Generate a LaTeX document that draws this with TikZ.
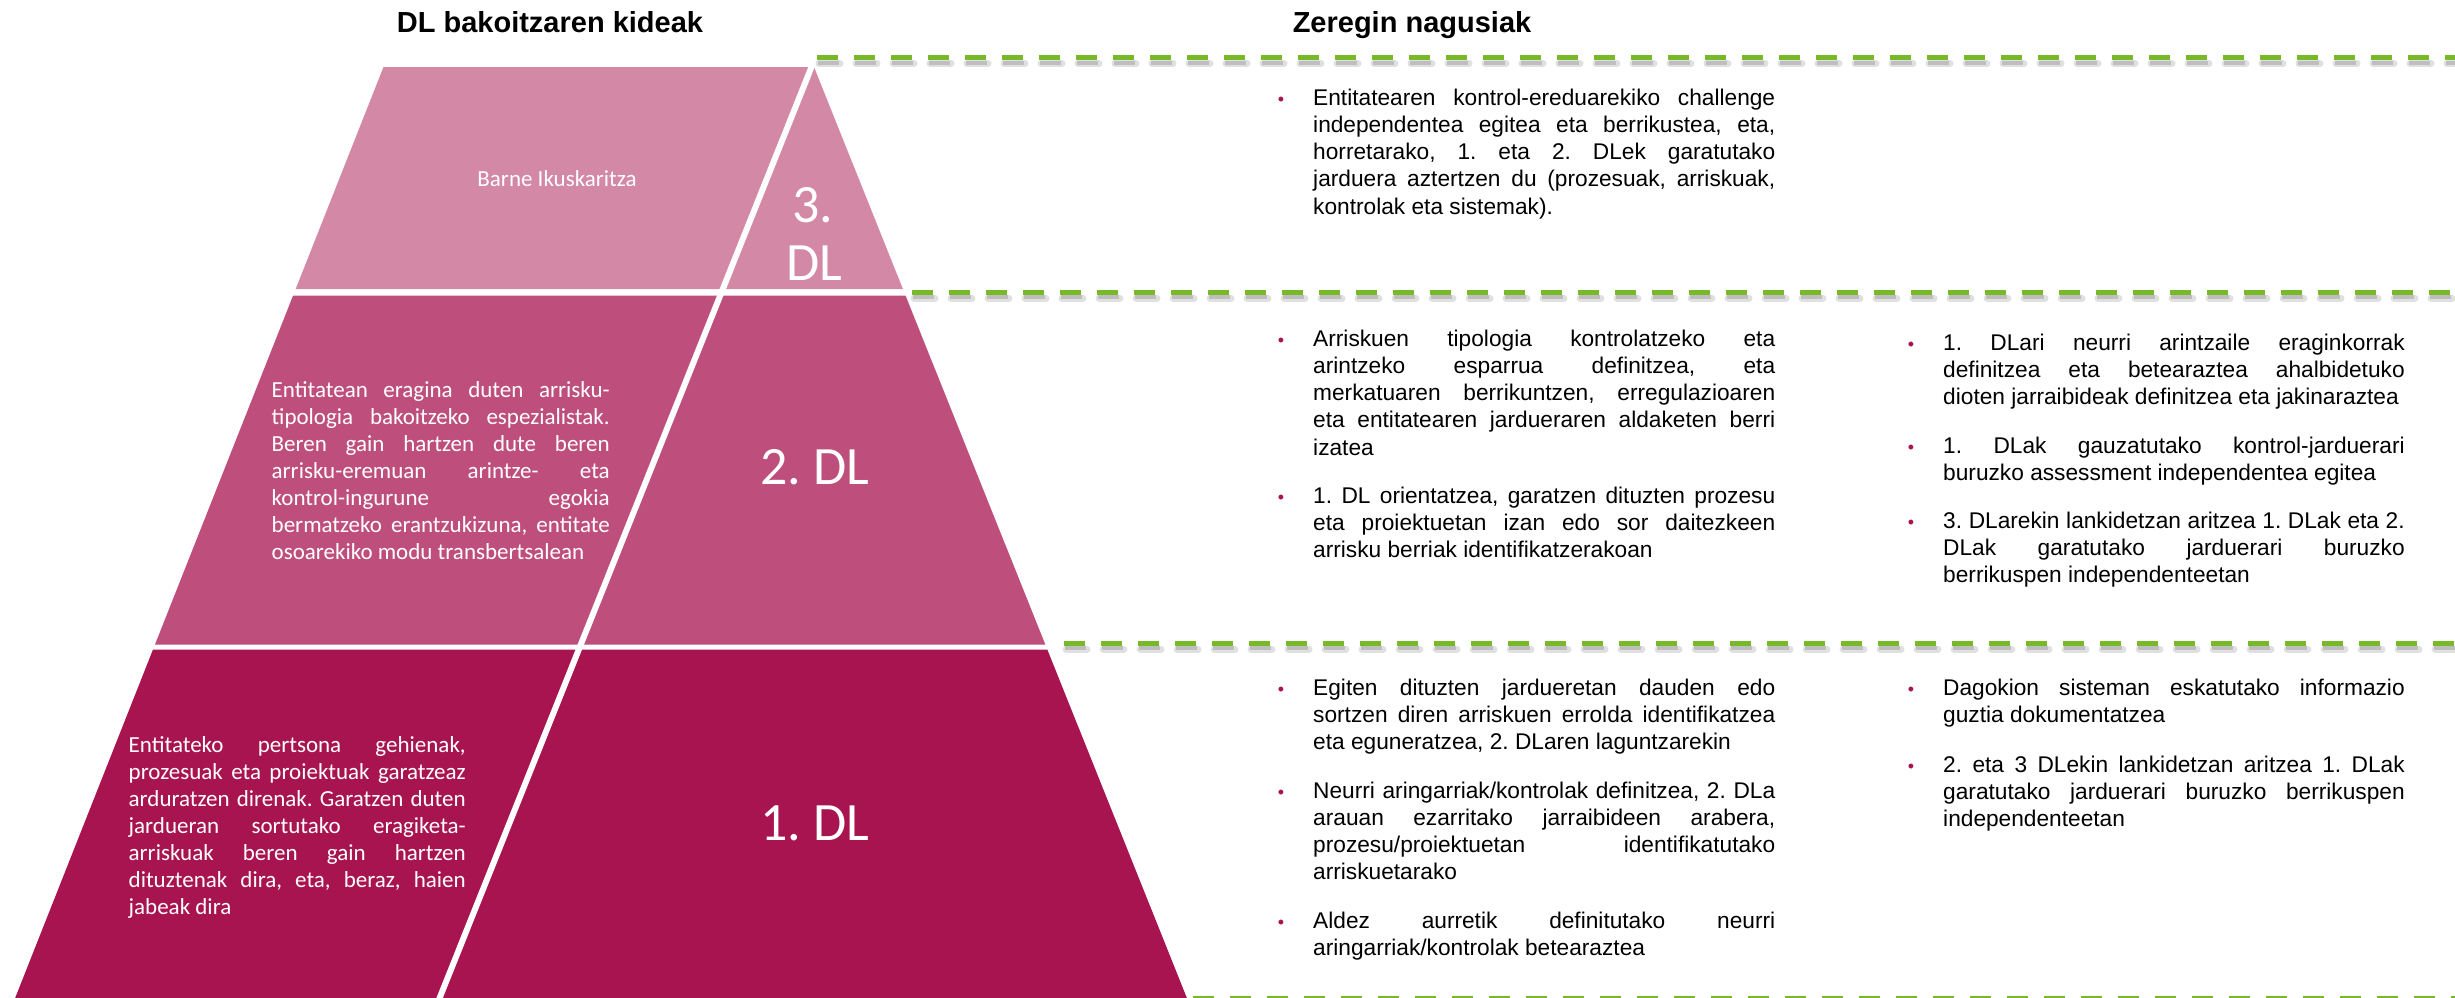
\documentclass[tikz,border=0pt]{standalone}
\usepackage{fontspec}
\setmainfont{Liberation Sans}
\newfontfamily\calibfont{Carlito}
\definecolor{tierA}{HTML}{D388A6}
\definecolor{tierB}{HTML}{BE4F7D}
\definecolor{tierC}{HTML}{A81450}
\definecolor{dashgreen}{HTML}{78B928}
\definecolor{bulc}{HTML}{A81450}
\newcommand\myjl[1]{\makebox[\hsize][s]{#1}\par}
\newcommand\myll[1]{\makebox[\hsize][l]{#1}\par}
\newcommand\mypara[2]{\vtop{\hsize=#1\relax\parindent=0pt\parskip=0pt\relax #2}}
\tikzset{
  body/.style={font=\frenchspacing\fontsize{22.7}{27.3}\selectfont, anchor=base west, inner sep=0pt, text=black},
  pyrtext/.style={font=\frenchspacing\calibfont\fontsize{23}{27.15}\selectfont, anchor=base west, inner sep=0pt, text=white},
  bigdl/.style={font=\calibfont\fontsize{54}{58}\selectfont, anchor=base, inner sep=0pt, text=white},
  smallpyr/.style={font=\calibfont\fontsize{23}{27}\selectfont, anchor=base, inner sep=0pt, text=white},
  bul/.style={font=\fontsize{18}{20}\selectfont, anchor=base, inner sep=0pt, text=bulc},
  titletext/.style={font=\bfseries\fontsize{29}{34}\selectfont, anchor=base, inner sep=0pt, text=black},
  dashln/.style={draw=dashgreen, line width=5pt, dash pattern=on 21pt off 16pt},
  shadw/.style={draw=black, line width=7pt, opacity=0.12, dash pattern=on 21pt off 16pt, line cap=round},
  shadwb/.style={draw=black, line width=4pt, opacity=0.15, dash pattern=on 21pt off 16pt},
  divider/.style={draw=white, line width=6pt}
}
\begin{document}
\frenchspacing
\begin{tikzpicture}[x=1pt,y=-1pt]
\useasboundingbox (0,0) rectangle (2455,997);
\clip (0,0) rectangle (2455,997);
\fill[white] (0,0) rectangle (2455,997);

% pyramid tiers
\fill[tierA] (383.5,67) -- (814,67) -- (902.9,289) -- (295.7,289) -- cycle;
\fill[tierB] (293.1,295.5) -- (905.5,295.5) -- (1045.3,644.5) -- (155.0,644.5) -- cycle;
\fill[tierC] (153.0,649.5) -- (1047.3,649.5) -- (1191.7,1010) -- (10.4,1010) -- cycle;
% divider between left and right pieces
\coordinate (dvtop) at (813.5,62);
\coordinate (dvbot) at (434.8,1010);
\draw[divider] (dvtop) -- (dvbot);

% titles
\node[titletext] (t1) at (550,32) {DL bakoitzaren kideak};
\node[titletext] (t2) at (1412,32) {Zeregin nagusiak};

% pyramid labels
\node[smallpyr] (barne) at (557,186) {Barne Ikuskaritza};
\node[bigdl] (dl3a) at (813,222) {3.};
\node[bigdl] (dl3b) at (814,280) {DL};
\node[bigdl] (dl2) at (815,484) {2.~DL};
\node[bigdl] (dl1) at (815,840) {1.~DL};

\node[pyrtext] (p2) at (271.5,397) {\mypara{338pt}{%
\myjl{Entitatean eragina duten arrisku-}
\myjl{tipologia bakoitzeko espezialistak.}
\myjl{Beren gain hartzen dute beren}
\myjl{arrisku-eremuan arintze- eta}
\myjl{kontrol-ingurune egokia}
\myjl{bermatzeko erantzukizuna, entitate}
\myll{osoarekiko modu transbertsalean}}};

\node[pyrtext] (p1) at (128.5,752) {\mypara{337pt}{%
\myjl{Entitateko pertsona gehienak,}
\myjl{prozesuak eta proiektuak garatzeaz}
\myjl{arduratzen direnak. Garatzen duten}
\myjl{jardueran sortutako eragiketa-}
\myjl{arriskuak beren gain hartzen}
\myjl{dituztenak dira, eta, beraz, haien}
\myll{jabeak dira}}};

% right-hand text: level 3
\node[bul] (b31) at (1281,105) {•};
\node[body] (m31) at (1313,105) {\mypara{462pt}{%
\myjl{Entitatearen kontrol-ereduarekiko challenge}
\myjl{independentea egitea eta berrikustea, eta,}
\myjl{horretarako, 1. eta 2. DLek garatutako}
\myjl{jarduera aztertzen du (prozesuak, arriskuak,}
\myll{kontrolak eta sistemak).}}};

% level 2, middle column
\node[bul] (b21) at (1281,346) {•};
\node[body] (m21) at (1313,346) {\mypara{462pt}{%
\myjl{Arriskuen tipologia kontrolatzeko eta}
\myjl{arintzeko esparrua definitzea, eta}
\myjl{merkatuaren berrikuntzen, erregulazioaren}
\myjl{eta entitatearen jardueraren aldaketen berri}
\myll{izatea}}};
\node[bul] (b22) at (1281,503) {•};
\node[body] (m22) at (1313,503) {\mypara{462pt}{%
\myjl{1. DL orientatzea, garatzen dituzten prozesu}
\myjl{eta proiektuetan izan edo sor daitezkeen}
\myll{arrisku berriak identifikatzerakoan}}};

% level 2, right column
\node[bul] (b23) at (1911,350) {•};
\node[body] (r21) at (1943,350) {\mypara{461.5pt}{%
\myjl{1. DLari neurri arintzaile eraginkorrak}
\myjl{definitzea eta betearaztea ahalbidetuko}
\myll{dioten jarraibideak definitzea eta jakinaraztea}}};
\node[bul] (b24) at (1911,453) {•};
\node[body] (r22) at (1943,453) {\mypara{461.5pt}{%
\myjl{1. DLak gauzatutako kontrol-jarduerari}
\myll{buruzko assessment independentea egitea}}};
\node[bul] (b25) at (1911,528) {•};
\node[body] (r23) at (1943,528) {\mypara{461.5pt}{%
\myjl{3. DLarekin lankidetzan aritzea 1. DLak eta 2.}
\myjl{DLak garatutako jarduerari buruzko}
\myll{berrikuspen independenteetan}}};

% level 1, middle column
\node[bul] (b11) at (1281,695) {•};
\node[body] (m11) at (1313,695) {\mypara{462pt}{%
\myjl{Egiten dituzten jardueretan dauden edo}
\myjl{sortzen diren arriskuen errolda identifikatzea}
\myll{eta eguneratzea, 2. DLaren laguntzarekin}}};
\node[bul] (b12) at (1281,798) {•};
\node[body] (m12) at (1313,798) {\mypara{462pt}{%
\myjl{Neurri aringarriak/kontrolak definitzea, 2. DLa}
\myjl{arauan ezarritako jarraibideen arabera,}
\myjl{prozesu/proiektuetan identifikatutako}
\myll{arriskuetarako}}};
\node[bul] (b13) at (1281,928) {•};
\node[body] (m13) at (1313,928) {\mypara{462pt}{%
\myjl{Aldez aurretik definitutako neurri}
\myll{aringarriak/kontrolak betearaztea}}};

% level 1, right column
\node[bul] (b14) at (1911,695) {•};
\node[body] (r11) at (1943,695) {\mypara{461.5pt}{%
\myjl{Dagokion sisteman eskatutako informazio}
\myll{guztia dokumentatzea}}};
\node[bul] (b15) at (1911,772) {•};
\node[body] (r12) at (1943,772) {\mypara{461.5pt}{%
\myjl{2. eta 3 DLekin lankidetzan aritzea 1. DLak}
\myjl{garatutako jarduerari buruzko berrikuspen}
\myll{independenteetan}}};

% dashed separator lines
\coordinate (d1s) at (817,57.5);  \coordinate (d1e) at (2460,57.5);
\coordinate (d2s) at (912,292);   \coordinate (d2e) at (2460,292);
\coordinate (d3s) at (1064,643);  \coordinate (d3e) at (2460,643);
\coordinate (d4s) at (1193,998.5);\coordinate (d4e) at (2460,998.5);
\foreach \s/\e in {d1s/d1e,d2s/d2e,d3s/d3e,d4s/d4e}{
  \draw[shadw] ([shift={(2,6)}]\s) -- ([shift={(2,6)}]\e);
  \draw[shadwb] ([shift={(1,5)}]\s) -- ([shift={(1,5)}]\e);
  \draw[dashln] (\s) -- (\e);
}
\end{tikzpicture}
\end{document}
